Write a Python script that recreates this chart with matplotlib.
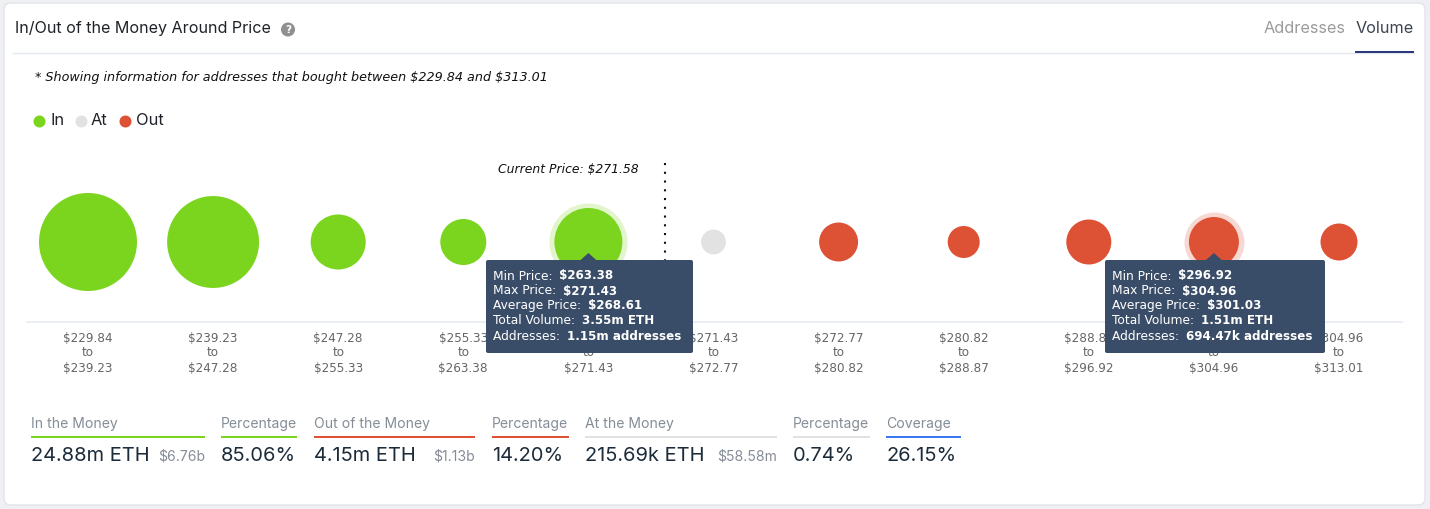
import numpy as np
import matplotlib
matplotlib.use("Agg")
import matplotlib.pyplot as plt
from matplotlib.patches import FancyBboxPatch, Polygon, Circle, Rectangle

# price bins
bin_edges = [229.84, 239.23, 247.28, 255.33, 263.38, 271.43, 272.77, 280.82, 288.87, 296.92, 304.96, 313.01]
volumes = [9.8, 8.2, 1.97, 1.2, 3.55, 0.2157, 0.757, 0.437, 1.127, 1.51, 0.654]
status = ["in", "in", "in", "in", "in", "at", "out", "out", "out", "out", "out"]
current_price = 271.58

tip_labels = ["Min Price: ", "Max Price: ", "Average Price: ", "Total Volume: ", "Addresses: "]
tip_left = ["$263.38", "$271.43", "$268.61", "3.55m ETH", "1.15m addresses"]
tip_right = ["$296.92", "$304.96", "$301.03", "1.51m ETH", "694.47k addresses"]

stat_titles = ["In the Money", "Percentage", "Out of the Money", "Percentage", "At the Money", "Percentage", "Coverage"]
stat_values = ["24.88m ETH", "85.06%", "4.15m ETH", "14.20%", "215.69k ETH", "0.74%", "26.15%"]
stat_usd = ["$6.76b", "", "$1.13b", "", "$58.58m", "", ""]
stat_kinds = ["in", "in", "out", "out", "at", "at", "cov"]

colors = {"in": "#7bd51f", "at": "#e2e2e2", "out": "#dd5135", "cov": "#3b78f0"}
NAVY = "#3a4d68"
UI_FONT = "Inter"
px = 0.72  # font px to pt at dpi 100

plt.rcParams["text.parse_math"] = False

fig = plt.figure(figsize=(14.3, 5.09), dpi=100, facecolor="#eff0f3")
ax = fig.add_axes([0, 0, 1, 1])
ax.set_xlim(0, 1430)
ax.set_ylim(509, 0)
ax.axis("off")


def text_after(x, y, s, **kw):
    t = ax.text(x, y, s, va="center", ha="left", **kw)
    bb = t.get_window_extent(fig.canvas.get_renderer())
    return x + bb.width


def bubble_radius(v):
    return 21.55 * np.asarray(v) ** 0.36


def bubble_size(r):
    return (2 * r * px) ** 2


# card
ax.add_patch(FancyBboxPatch((4, 3), 1421, 502, boxstyle="round,pad=0,rounding_size=7",
                            fc="white", ec="#e3e5ea", lw=1, zorder=0))

# header
ax.text(15, 28.5, "In/Out of the Money Around Price", fontsize=16.1 * px, family=UI_FONT, color="#1f2329", va="center")
ax.add_patch(Circle((288, 29.5), 7, fc="#8f8f8f", ec="none"))
ax.text(288, 29.8, "?", fontsize=10.5 * px, color="white", weight="bold", ha="center", va="center")
ax.plot([13, 1414], [53, 53], color="#e3e7ee", lw=1)
ax.text(1264, 28.5, "Addresses", fontsize=16.3 * px, family=UI_FONT, color="#9b9b9b", va="center")
ax.text(1356, 28.5, "Volume", fontsize=16.2 * px, family=UI_FONT, color="#3d4450", va="center")
ax.add_patch(Rectangle((1355, 50.5), 59, 2, fc="#2b3a7e", ec="none", zorder=3))

ax.text(35, 77, "* Showing information for addresses that bought between $229.84 and $313.01",
        fontsize=12.7 * px, style="italic", color="#111111", va="center")

# legend
for lx, tx, name, key in [(39, 50, "In", "in"), (81, 91, "At", "at"), (125, 136, "Out", "out")]:
    ax.scatter([lx], [120.5], s=bubble_size(6), color=colors[key], linewidths=0)
    ax.text(tx, 120.5, name, fontsize=16.5 * px, family=UI_FONT, color="#1f2329", va="center")

# axis line and bin labels
ax.plot([27, 1402], [322, 322], color="#e6eaf4", lw=1.2, zorder=1)
centers = 88 + 125.1 * np.arange(len(volumes))
for i, c in enumerate(centers):
    for y, s in zip([338, 353, 368], [f"${bin_edges[i]:.2f}", "to", f"${bin_edges[i + 1]:.2f}"]):
        ax.text(c, y, s, fontsize=12 * px, color="#666666", ha="center", va="center", zorder=2)

# bubbles
radii = bubble_radius(volumes)
ax.scatter(centers, [242] * len(centers), s=bubble_size(radii), c=[colors[k] for k in status], linewidths=0, zorder=3)
for i in [4, 9]:
    ax.scatter([centers[i]], [242], s=bubble_size(radii[i] + 5), color=colors[status[i]], alpha=0.22, linewidths=0, zorder=2)

# current price marker, sits just right of the fifth bubble
line_x = centers[4] + 77
ax.plot([line_x, line_x], [163, 262], color="#111111", lw=1.5, ls=(0, (1, 3.2)), zorder=3)
ax.text(498, 169.5, f"Current Price: ${current_price:.2f}", fontsize=12.4 * px, style="italic", color="#111111", va="center")


# tooltips
def tooltip(x0, x1, cx, values):
    ax.add_patch(FancyBboxPatch((x0, 260), x1 - x0, 93, boxstyle="round,pad=0,rounding_size=2",
                                fc=NAVY, ec="none", zorder=5))
    ax.add_patch(Polygon([[cx - 9, 261], [cx, 253], [cx + 9, 261]], fc=NAVY, ec="none", zorder=5))
    for j, (lab, val) in enumerate(zip(tip_labels, values)):
        y = 276 + 15 * j
        nx = text_after(x0 + 7, y, lab, fontsize=12.2 * px, color="white", zorder=6)
        ax.text(nx + 3, y, val, fontsize=11.9 * px, color="white", weight="bold", va="center", zorder=6)


tooltip(486, 693, centers[4], tip_left)
tooltip(1105, 1325, centers[9], tip_right)

# stats row
stat_x0 = [31, 221, 314, 492, 585, 793, 886]
stat_x1 = [205, 297, 475, 569, 777, 870, 961]
for x0, x1, title, val, usd, kind in zip(stat_x0, stat_x1, stat_titles, stat_values, stat_usd, stat_kinds):
    ax.text(x0, 424, title, fontsize=14 * px, family=UI_FONT, color="#858d96", va="center")
    ax.add_patch(Rectangle((x0, 436), x1 - x0, 2.4, fc=colors[kind], ec="none"))
    ax.text(x0, 456, val, fontsize=20 * px, family=UI_FONT, color="#1c2b3a", va="center")
    if usd:
        ax.text(x1, 457, usd, fontsize=14 * px, family=UI_FONT, color="#858d96", va="center", ha="right")

fig.savefig("out.png", dpi=100, facecolor=fig.get_facecolor())
